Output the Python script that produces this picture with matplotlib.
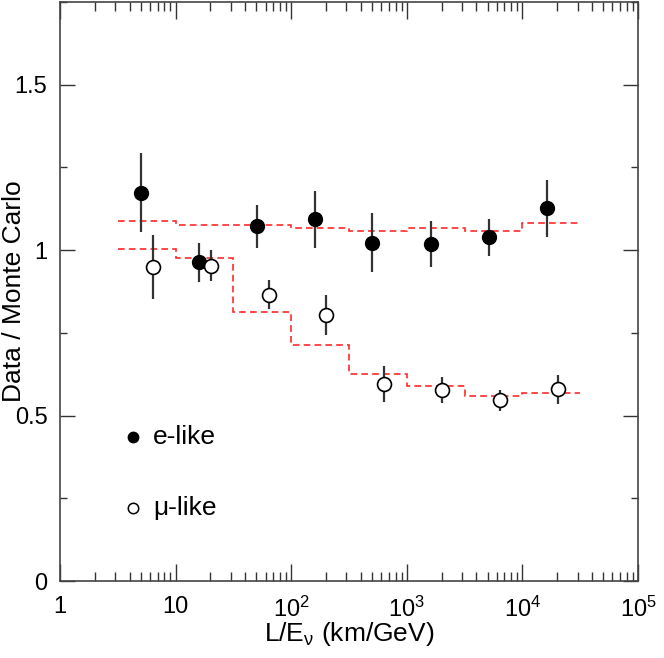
import numpy as np
import matplotlib
matplotlib.use("Agg")
import matplotlib.pyplot as plt
from matplotlib.ticker import FixedLocator, FixedFormatter, LogLocator, MultipleLocator, NullFormatter

plt.rcParams['font.family'] = ['Liberation Sans', 'DejaVu Sans']
plt.rcParams['mathtext.fontset'] = 'custom'
plt.rcParams['mathtext.rm'] = 'Liberation Sans'
plt.rcParams['mathtext.it'] = 'Liberation Sans'

# données
e_x = [5.0, 15.9, 50.6, 160, 500, 1610, 5100, 16200]
e_y = [1.174, 0.963, 1.072, 1.093, 1.023, 1.019, 1.039, 1.126]
e_err = [0.12, 0.06, 0.065, 0.086, 0.09, 0.07, 0.056, 0.085]

mu_x = [6.4, 20.1, 63.7, 200, 640, 2030, 6450, 20400]
mu_y = [0.949, 0.953, 0.865, 0.805, 0.596, 0.577, 0.546, 0.580]
mu_err = [0.098, 0.046, 0.044, 0.06, 0.055, 0.04, 0.031, 0.044]

# attendu (histogrammes en pointillés)
bin_edges = [10**0.5, 10, 10**1.5, 100, 10**2.5, 1000, 10**3.5, 10**4, 10**4.5]
e_mc = [1.088, 1.076, 1.076, 1.067, 1.059, 1.067, 1.059, 1.083]
mu_mc = [1.003, 0.977, 0.814, 0.712, 0.626, 0.589, 0.558, 0.568]

xticks = [1, 10, 100, 1000, 10000, 100000]
xtick_labels = ['1', '10', r'$\mathregular{10^2}$', r'$\mathregular{10^3}$',
                r'$\mathregular{10^4}$', r'$\mathregular{10^5}$']
yticks = [0, 0.5, 1, 1.5]
ytick_labels = ['0', '0.5', '1', '1.5']

fig = plt.figure(figsize=(6.64, 6.58), dpi=100)
ax = fig.add_axes([60/664, 1 - 581/658, 578/664, 579/658])

ax.stairs(e_mc, bin_edges, baseline=None, color='#ff2a2a', lw=1.2, ls=(0, (4, 2.5)))
ax.stairs(mu_mc, bin_edges, baseline=None, color='#ff2a2a', lw=1.2, ls=(0, (4, 2.5)))

ax.errorbar(e_x, e_y, yerr=e_err, fmt='o', color='black', ms=10,
            ecolor='#333333', elinewidth=1.6, capsize=0)
ax.errorbar(mu_x, mu_y, yerr=mu_err, fmt='o', mfc='white', mec='black', mew=1.2,
            ms=10, ecolor='#333333', elinewidth=1.6, capsize=0)

ax.set_xscale('log')
ax.set_xlim(1, 1e5)
ax.set_ylim(0, 1.75)

ax.xaxis.set_major_locator(FixedLocator(xticks))
ax.xaxis.set_major_formatter(FixedFormatter(xtick_labels))
ax.xaxis.set_minor_locator(LogLocator(base=10, subs=np.arange(2, 10)))
ax.xaxis.set_minor_formatter(NullFormatter())
ax.yaxis.set_major_locator(FixedLocator(yticks))
ax.yaxis.set_major_formatter(FixedFormatter(ytick_labels))
ax.yaxis.set_minor_locator(MultipleLocator(0.25))

ax.tick_params(axis='both', which='both', direction='in', top=True, right=True,
               color='#333333', labelsize=17)
ax.tick_params(axis='x', which='major', length=12, width=1, pad=11)
ax.tick_params(axis='x', which='minor', length=6.5, width=1)
ax.tick_params(axis='y', which='major', length=11, width=1, pad=9)
ax.tick_params(axis='y', which='minor', length=5, width=1)
for s in ax.spines.values():
    s.set_color('#444444')
    s.set_linewidth(1.2)

ax.set_xlabel(r'L/E$_{\mathregular{\nu}}$ (km/GeV)', fontsize=19)
ax.xaxis.set_label_coords(0.5, -0.067)
ax.set_ylabel('Data / Monte Carlo', fontsize=19)
ax.yaxis.set_label_coords(-0.058, 0.5)

# légende faite à la main
ax.plot([0.126], [0.249], 'o', color='black', ms=7.5, transform=ax.transAxes)
ax.text(0.161, 0.249, 'e-like', fontsize=19, va='center', transform=ax.transAxes)
ax.plot([0.126], [0.1256], 'o', mfc='white', mec='black', mew=1.1, ms=7.5, transform=ax.transAxes)
ax.text(0.161, 0.1256, 'μ-like', fontsize=19, va='center', transform=ax.transAxes)

plt.savefig('out.png', dpi=100)
